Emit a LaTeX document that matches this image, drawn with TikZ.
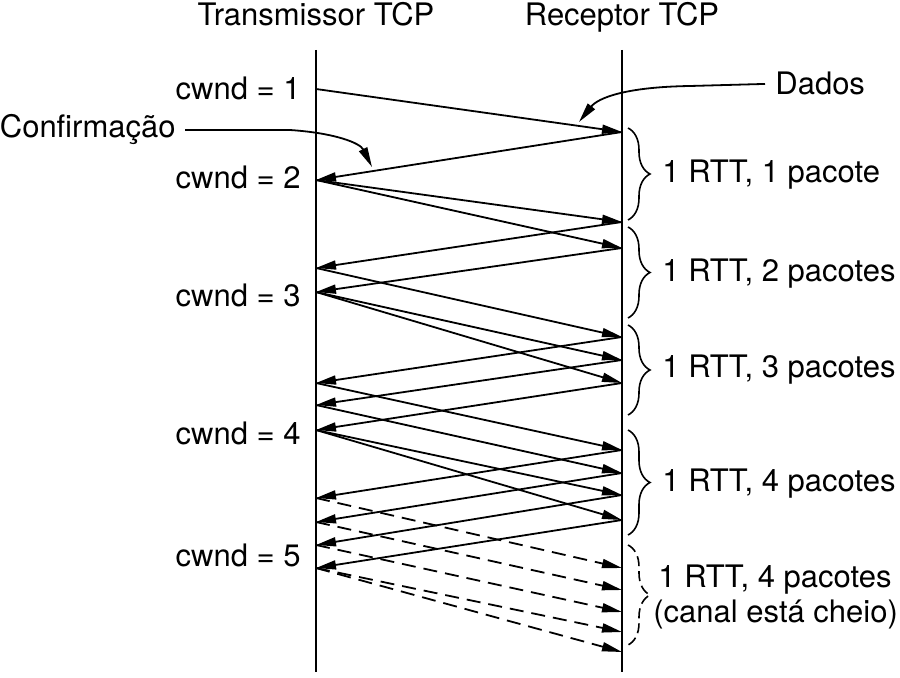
\documentclass[tikz,border=0pt]{standalone}
\usepackage{fontspec}
\setmainfont{TeX Gyre Heros}
\usetikzlibrary{arrows.meta, positioning, calc, decorations.pathreplacing}

\tikzset{
  lbl/.style={inner sep=0pt, font=\fontsize{15.5}{18}\selectfont},
  timeline/.style={line width=1pt},
  pkt/.style={->, line width=0.9pt},
  pktfull/.style={pkt, dash pattern=on 7pt off 4pt},
  rtt/.style={decorate, decoration={brace, amplitude=11pt}, line width=0.8pt},
}

\begin{document}
\begin{tikzpicture}[x=0.5pt, y=-0.5pt, >={Triangle[length=10pt, width=4.5pt]}]
  \useasboundingbox (0,0) rectangle (900,678);

  % Hosts and time lines
  \node[lbl, anchor=base] (tx) at (316,26) {Transmissor TCP};
  \node[lbl, anchor=base] (rx) at (622,26) {Receptor TCP};
  \coordinate (txtop) at (316,50);
  \coordinate (txbot) at (316,672);
  \coordinate (rxtop) at (622,50);
  \coordinate (rxbot) at (622,672);
  \draw[timeline] (txtop) -- (txbot);
  \draw[timeline] (rxtop) -- (rxbot);

  % Event points on the time lines
  \foreach \y in {89,180,268,292,383,405,430,498,522,545,568}
    \coordinate (L\y) at (316,\y);
  \foreach \y in {132,222,248,337,360,383,450,473,495,520,568,590,612,632,652}
    \coordinate (R\y) at (622,\y);

  % Segments sent
  \foreach \a/\b in {89/132, 180/222, 180/248, 268/337, 292/360, 292/383,
                     383/450, 405/473, 430/495, 430/520}
    \draw[pkt] (L\a) -- (R\b);

  % Acknowledgements
  \foreach \b/\a in {132/180, 222/268, 248/292, 337/383, 360/405, 383/430,
                     450/498, 473/522, 495/545, 520/568}
    \draw[pkt] (R\b) -- (L\a);

  % Pipe full (dashed)
  \foreach \a/\b in {498/568, 522/590, 545/612, 568/632, 568/652}
    \draw[pktfull] (L\a) -- (R\b);

  % cwnd labels
  \foreach \n/\y in {1/100, 2/189, 3/307, 4/445, 5/567}
    \node[lbl, anchor=base east] (cwnd\n) at (301,\y) {cwnd = \n};

  % RTT braces
  \foreach \t/\b in {128/220, 227/318, 325/415, 430/535}
    \draw[rtt] (628,\t) -- (628,\b);
  \draw[rtt, dash pattern=on 5pt off 2.5pt] (628,545) -- (628,645);

  \node[lbl, anchor=base west] (rtt1) at (662,183) {1 RTT, 1 pacote};
  \node[lbl, anchor=base west] (rtt2) at (662,282) {1 RTT, 2 pacotes};
  \node[lbl, anchor=base west] (rtt3) at (662,378) {1 RTT, 3 pacotes};
  \node[lbl, anchor=base west] (rtt4) at (662,492) {1 RTT, 4 pacotes};
  \node[lbl, anchor=base west] (rtt5) at (658,588) {1 RTT, 4 pacotes};
  \node[lbl, anchor=base west] (cheio) at (653,622) {(canal está cheio)};

  % Callouts
  \node[lbl, anchor=base east] (conf) at (176,138) {Confirmação};
  \coordinate (confpt) at (372,167);
  \draw[pkt] ([xshift=4.5pt]conf.east) -- (290,130)
    .. controls (335,133) and (360,143) .. (confpt);

  \node[lbl, anchor=base west] (dados) at (775,95) {Dados};
  \coordinate (dadospt) at (579,122);
  \draw[pkt] ([xshift=-5pt]dados.west) -- (690,86)
    .. controls (625,87) and (598,98) .. (dadospt);
\end{tikzpicture}
\end{document}
